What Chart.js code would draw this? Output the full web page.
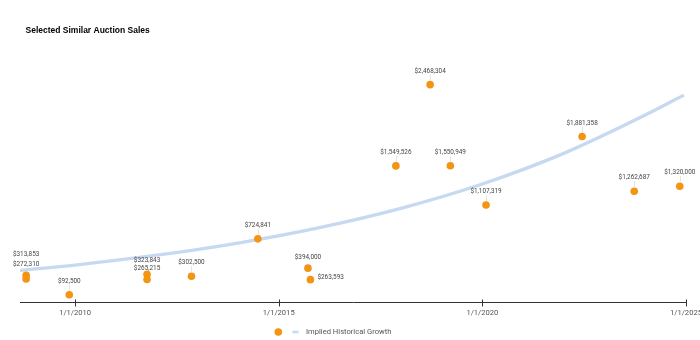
<!DOCTYPE html>
<html>
<head>
<meta charset="utf-8">
<script src="https://cdn.jsdelivr.net/npm/chart.js@4/dist/chart.umd.min.js"></script>
<style>
  html, body { margin: 0; padding: 0; background: #fff; }
  #wrap { width: 700px; height: 340px; }
</style>
</head>
<body>
<div id="wrap"><canvas id="auctionChart" width="700" height="340"></canvas></div>
<script>
// sale dates and hammer prices
const saleDates = [
    "2008-10-19", "2008-10-19", "2009-11-10", "2011-10-08", "2011-10-08",
    "2012-11-10", "2014-06-28", "2015-09-20", "2015-10-12", "2017-11-17",
    "2018-09-20", "2019-03-20", "2020-02-03", "2022-06-14", "2023-09-24",
    "2024-11-06"
];
const salePrices = [
    313853, 272310, 92500, 323843, 265215,
    302500, 724841, 394000, 263593, 1549526,
    2468304, 1550949, 1107319, 1881358, 1262687,
    1320000
];

// implied growth curve, read at a few dates along the line
const growthDates = [
    "2008-08-25", "2010-01-01", "2012-01-01", "2014-01-01", "2016-01-01",
    "2018-01-01", "2020-01-01", "2022-01-01", "2024-01-01", "2024-12-13"
];
const growthValues = [
    368000, 429000, 540000, 678000, 852000,
    1070000, 1345000, 1691000, 2124000, 2350000
];

const yearTicks = [2010, 2015, 2020, 2025];

const chartTitle = "Selected Similar Auction Sales";
const growthLabel = "Implied Historical Growth";

const DOT = "#f39412";
const LINE = "#c6d9f1";

function toYear(str) {
    const d = new Date(str + "T00:00:00Z");
    const y = d.getUTCFullYear();
    const start = Date.UTC(y, 0, 1);
    const end = Date.UTC(y + 1, 0, 1);
    return y + (d.getTime() - start) / (end - start);
}

function money(v) {
    return "$" + v.toLocaleString("en-US");
}

const salePoints = saleDates.map((d, i) => ({ x: toYear(d), y: salePrices[i] }));
const growthPoints = growthDates.map((d, i) => ({ x: toYear(d), y: growthValues[i] }));

// label placement tweaks for stacked / crowded points
const labelOffsets = { 0: 20.5, 1: 14.2, 3: 14.2, 4: 10.8, 7: 10.8 };
const labelRight = { 8: true };

const extrasPlugin = {
    id: "extras",
    afterDatasetsDraw(chart) {
        const ctx = chart.ctx;
        const meta = chart.getDatasetMeta(0);
        ctx.save();
        ctx.font = "6.4px Roboto";
        ctx.fillStyle = "#444";
        ctx.textBaseline = "middle";
        meta.data.forEach((pt, i) => {
            const txt = money(salePrices[i]);
            if (labelRight[i]) {
                ctx.textAlign = "left";
                ctx.fillText(txt, pt.x + 7, pt.y - 2.5);
                return;
            }
            const off = labelOffsets[i] !== undefined ? labelOffsets[i] : 13.6;
            ctx.textAlign = "center";
            ctx.fillText(txt, pt.x, pt.y - off);
            if (labelOffsets[i] === undefined) {
                ctx.strokeStyle = "#e4e4e4";
                ctx.lineWidth = 1;
                ctx.beginPath();
                ctx.moveTo(Math.round(pt.x) + 0.5, pt.y - off + 3.5);
                ctx.lineTo(Math.round(pt.x) + 0.5, pt.y - 4);
                ctx.stroke();
            }
        });
        ctx.restore();
    },
    afterDraw(chart) {
        const ctx = chart.ctx;
        const xs = chart.scales.x;
        const bottom = chart.chartArea.bottom;
        ctx.save();
        // tick marks crossing the axis
        ctx.strokeStyle = "#333";
        ctx.lineWidth = 1;
        yearTicks.forEach(t => {
            const px = Math.round(xs.getPixelForValue(t)) + 0.5;
            ctx.beginPath();
            ctx.moveTo(px, bottom - 3.5);
            ctx.lineTo(px, bottom + 3.5);
            ctx.stroke();
        });
        // title
        ctx.fillStyle = "#000";
        ctx.font = "bold 8.5px 'Liberation Sans', Arial, sans-serif";
        ctx.textAlign = "left";
        ctx.textBaseline = "middle";
        ctx.fillText(chartTitle, 25.5, 31);
        // legend
        const ly = 332;
        ctx.fillStyle = DOT;
        ctx.beginPath();
        ctx.arc(278.3, ly, 3.8, 0, Math.PI * 2);
        ctx.fill();
        ctx.strokeStyle = LINE;
        ctx.lineWidth = 2.5;
        ctx.beginPath();
        ctx.moveTo(292.5, ly);
        ctx.lineTo(298.5, ly);
        ctx.stroke();
        ctx.fillStyle = "#555";
        ctx.font = "7.6px Roboto";
        ctx.fillText(growthLabel, 306, ly);
        ctx.restore();
    }
};

new Chart(document.getElementById("auctionChart"), {
    type: "scatter",
    data: {
        datasets: [{
            label: "",
            data: salePoints,
            backgroundColor: DOT,
            borderColor: DOT,
            borderWidth: 0,
            pointRadius: 3.8,
            pointHoverRadius: 3.8
        }, {
            type: "line",
            label: growthLabel,
            data: growthPoints,
            showLine: true,
            borderColor: LINE,
            borderWidth: 3.3,
            pointRadius: 0,
            cubicInterpolationMode: "monotone",
            fill: false
        }]
    },
    options: {
        responsive: false,
        animation: false,
        layout: { padding: { left: 20, right: 14, top: 37.6, bottom: 16.9 } },
        plugins: {
            legend: { display: false },
            title: { display: false },
            tooltip: { enabled: false }
        },
        scales: {
            x: {
                type: "linear",
                min: toYear("2008-08-25"),
                max: 2025,
                afterBuildTicks: (scale) => {
                    scale.ticks = yearTicks.map(v => ({ value: v }));
                },
                afterFit: (scale) => {
                    scale.paddingLeft = 0;
                    scale.paddingRight = 0;
                },
                ticks: {
                    color: "#555",
                    font: { family: "Roboto", size: 7.6 },
                    padding: 5.5,
                    maxRotation: 0,
                    autoSkip: false,
                    callback: (v) => "1/1/" + v
                },
                grid: { display: true, drawOnChartArea: false, drawTicks: false },
                border: { display: true, color: "#333", width: 1 }
            },
            y: {
                display: false,
                min: 0,
                max: 3000000
            }
        }
    },
    plugins: [extrasPlugin]
});
</script>
</body>
</html>
